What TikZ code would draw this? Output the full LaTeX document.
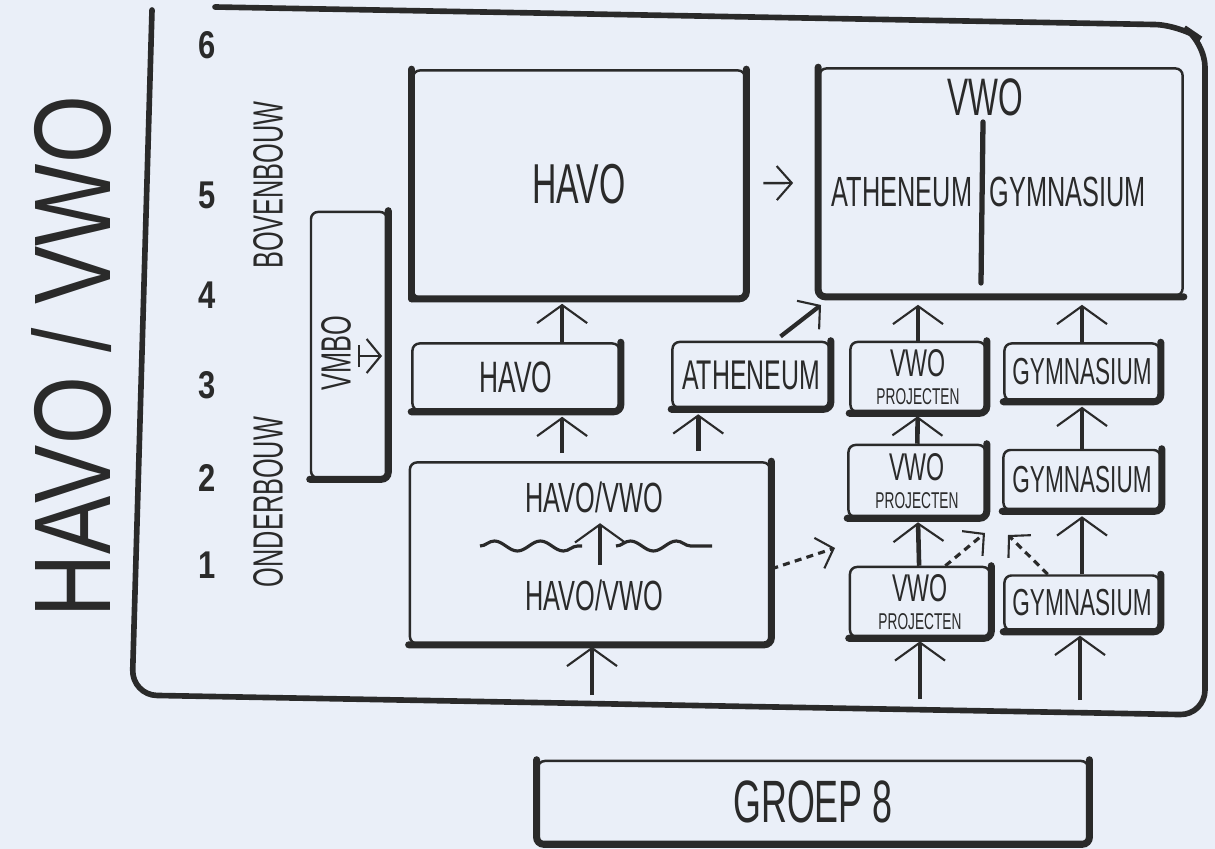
\documentclass[tikz,border=0pt]{standalone}
\usepackage{fontspec}
\setmainfont{Liberation Sans}[FakeStretch=0.6]
\newfontfamily\titlefont{Liberation Sans}[FakeStretch=0.8]
\usetikzlibrary{arrows.meta,positioning,decorations.pathmorphing}
\definecolor{paper}{HTML}{EAEFF8}
\definecolor{ink}{HTML}{2A2A2A}

\begin{document}
\begin{tikzpicture}[
  x=0.01cm, y=-0.01cm,
  box/.style={draw=ink, line width=0.7pt, rounded corners=2pt, align=center,
    inner sep=0pt, text=ink},
  lbl/.style={text=ink, inner sep=0pt, align=center},
  edge/.style={draw=ink, line width=2pt, line cap=round, rounded corners=2pt},
  arr/.style={draw=ink, line width=1.3pt,
    -{Straight Barb[length=1.8mm, width=5mm, line width=0.6pt]}},
  thinarr/.style={draw=ink, line width=0.7pt,
    -{Straight Barb[length=1.5mm, width=3.4mm, line width=0.6pt]}},
  darr/.style={draw=ink, line width=0.9pt, dash pattern=on 2pt off 1.5pt,
    -{Straight Barb[length=1.5mm, width=3.2mm, line width=0.6pt]}},
  num/.style={text=ink, inner sep=0pt, font=\titlefont\bfseries\fontsize{11}{11}\selectfont},
  huge/.style={font=\fontsize{16}{16}\selectfont},
  mid/.style={font=\fontsize{12}{12}\selectfont},
  small/.style={font=\fontsize{11}{8}\selectfont}
]
\path[use as bounding box, fill=paper] (0,0) rectangle (1215,849);

\draw[ink, line width=1.6pt, line cap=round, rounded corners=0.25cm]
  (152,10) -- (132,695) -- (1205,715) -- (1205,42) -- (1180,25) -- (215,7);

\node[lbl, rotate=90, font=\titlefont\fontsize{31}{31}\selectfont] (title) at (72,357) {HAVO / VWO};
\foreach \g/\y in {6/45,5/195,4/295,3/385,2/478,1/565}
  \node[num] (y\g) at (207,\y) {\g};
\node[lbl, rotate=90, font=\fontsize{12}{12}\selectfont] (boven) at (268,185) {BOVENBOUW};
\node[lbl, rotate=90, font=\fontsize{12}{12}\selectfont] (onder) at (268,502) {ONDERBOUW};

\node[box, minimum width=0.76cm, minimum height=2.66cm] (vmbo) at (349,345) {};
\node[lbl, rotate=90, mid] (vmbot) at (336,353) {VMBO};
\coordinate (vmboa) at (358,356);
\coordinate (vmbob) at (382,356);
\draw[draw=ink, line width=0.7pt, {Bar[width=2.2mm, line width=0.7pt]}-{Straight Barb[length=1.4mm, width=3.4mm, line width=0.6pt]}] (vmboa) -- (vmbob);

\node[box, huge, minimum width=3.32cm, minimum height=2.27cm] (havo5) at (579,184) {HAVO};
\node[box, minimum width=3.63cm, minimum height=2.27cm] (vwo5) at (1001,182) {};
\node[lbl, font=\fontsize{15}{15}\selectfont] (vwot) at (985,97) {VWO};
\node[lbl, mid] (athb) at (902,192) {ATHENEUM};
\node[lbl, mid] (gymb) at (1068,192) {GYMNASIUM};
\draw[edge, line width=1.5pt] (983,122) -- (981,283);

\node[box, font=\fontsize{12.5}{12.5}\selectfont, minimum width=2.07cm, minimum height=0.67cm] (havo3) at (516,377) {HAVO};
\node[box, font=\fontsize{11.8}{11.8}\selectfont, minimum width=1.57cm, minimum height=0.66cm] (ath3) at (751,375) {ATHENEUM};
\node[box, small, minimum width=1.35cm, minimum height=0.70cm] (vp3) at (918,377) {VWO\\{\fontsize{6.5}{8}\selectfont PROJECTEN}};
\node[box, font=\fontsize{10.7}{10.7}\selectfont, minimum width=1.55cm, minimum height=0.57cm] (gym3) at (1082,372) {GYMNASIUM};
\node[box, small, minimum width=1.37cm, minimum height=0.72cm] (vp2) at (917,481) {VWO\\{\fontsize{6.5}{8}\selectfont PROJECTEN}};
\node[box, font=\fontsize{10.7}{10.7}\selectfont, minimum width=1.57cm, minimum height=0.60cm] (gym2) at (1082,480) {GYMNASIUM};
\node[box, small, minimum width=1.40cm, minimum height=0.70cm] (vp1) at (920,602) {VWO\\{\fontsize{6.5}{8}\selectfont PROJECTEN}};
\node[box, font=\fontsize{10.7}{10.7}\selectfont, minimum width=1.55cm, minimum height=0.55cm] (gym1) at (1082,603) {GYMNASIUM};

\node[box, minimum width=3.60cm, minimum height=1.81cm] (hv12) at (590,553) {};
\node[lbl, mid] (hvt) at (594,497) {HAVO/VWO};
\node[lbl, mid] (hvb) at (594,595) {HAVO/VWO};
\draw[ink, line width=0.9pt, decorate, decoration={snake, amplitude=0.5mm, segment length=4.6mm}]
  (480,546) -- (582,546);
\draw[ink, line width=0.9pt, decorate, decoration={snake, amplitude=0.5mm, segment length=4.6mm}]
  (616,546) -- (712,546);
\draw[arr, line width=1.2pt, shorten <=0.14cm, shorten >=0.1cm] (hvb.north -| 600,0) -- (hvt.south -| 600,0);

\node[box, font=\fontsize{17}{17}\selectfont, minimum width=5.50cm, minimum height=0.82cm] (groep) at (813,802) {GROEP 8};

\foreach \n in {havo5,havo3,ath3,vp3,gym3,vp2,gym2,vp1,gym1,hv12,vmbo}
  \draw[edge] (\n.north east) -- (\n.south east) -- (\n.south west);
\draw[edge] (havo5.south west) -- (havo5.north west);
\draw[edge] (vwo5.north west) -- (vwo5.south west) -- (vwo5.south east);
\draw[edge] (groep.north west) -- (groep.south west) -- (groep.south east) -- (groep.north east);

\coordinate (a1) at (821,305);
\draw[thinarr, shorten <=0.17cm, shorten >=0.25cm] (havo5) -- (vwo5);
\draw[arr, shorten >=0.05cm] (havo3.37) -- (havo3.37 |- havo5.south);
\draw[arr, shorten <=0.08cm, shorten >=0.05cm] (hv12.north -| havo3.37) -- (havo3.37 |- havo3.south);
\draw[arr, shorten <=0.1cm, shorten >=0.05cm] (hv12.north -| ath3.213) -- (ath3.213);
\draw[draw=ink, line width=1.2pt, -{Straight Barb[length=1.5mm, width=3.6mm, line width=0.6pt]},
  shorten <=0.07cm] (ath3.55) -- (a1);
\draw[arr, shorten >=0.08cm] (vp3) -- (vp3 |- vwo5.south);
\draw[arr, shorten >=0.08cm] (gym3) -- (gym3 |- vwo5.south);
\draw[arr, shorten >=0.03cm] (vp2) -- (vp3);
\draw[arr, shorten >=0.05cm] (gym2) -- (gym3);
\draw[arr, shorten >=0.04cm] (vp1) -- (vp2);
\draw[arr, shorten >=0.05cm] (gym1) -- (gym2);

\coordinate (d0) at (835,548);
\coordinate (d1) at (985,533);
\coordinate (d2) at (1008,535);
\draw[darr] (hv12.-5) -- (d0);
\draw[darr] (vp1.55) -- (d1);
\draw[darr] (gym1.140) -- (d2);

\coordinate (e1) at (592,695);
\coordinate (e2) at (920,699);
\coordinate (e3) at (1080,700);
\draw[arr, shorten >=0.02cm] (e1) -- (hv12.south -| e1);
\draw[arr, shorten >=0.03cm] (e2) -- (vp1.south -| e2);
\draw[arr, shorten >=0.04cm] (e3) -- (gym1.south -| e3);
\end{tikzpicture}
\end{document}
